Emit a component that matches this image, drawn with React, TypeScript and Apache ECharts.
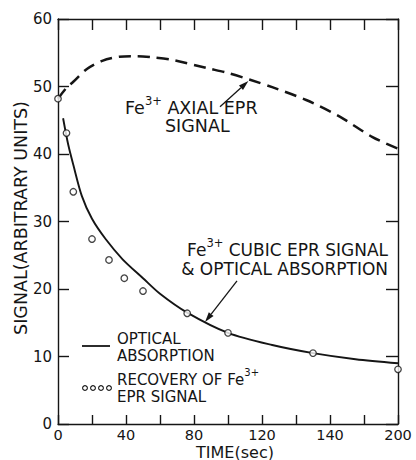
import React, { useEffect, useRef } from "react";
import * as echarts from "echarts";

const FONT = '"DejaVu Sans", sans-serif';
const INK = "#151515";

// Fe3+ axial EPR signal (dashed curve)
const axialTime = [0, 5, 9, 17, 26, 36, 46, 56, 68, 88, 100, 113, 126, 146, 166, 185, 200];
const axialSignal = [48.2, 49.8, 50.7, 52.6, 53.8, 54.4, 54.5, 54.3, 53.9, 52.7, 52.0, 51.0, 49.9, 48.0, 45.5, 42.5, 40.8];

// optical absorption (solid curve)
const opticalTime = [3, 6, 9, 14, 20, 28, 38, 50, 60, 76, 100, 126, 150, 175, 200];
const opticalSignal = [45.3, 41.4, 38.4, 33.8, 30.4, 27.4, 24.4, 21.6, 19.3, 16.5, 13.5, 11.7, 10.5, 9.6, 9.0];

// recovery of the Fe3+ EPR signal (open circles)
const recoveryTime = [0, 5, 9, 20, 30, 39, 50, 76, 100, 150, 200];
const recoverySignal = [48.2, 43.1, 34.4, 27.4, 24.3, 21.6, 19.7, 16.4, 13.5, 10.5, 8.1];

// labelled ticks on the time axis (the axis prints "140" at the 160 s tick)
const xLabelValues = [0, 40, 80, 120, 160, 200];
const xTickLabels = ["0", "40", "80", "120", "140", "200"];

// annotation arrows: [tail, head] in (time, signal)
const axialArrow = [[95.3, 47.0], [112, 50.8]];
const cubicArrow = [[105.3, 21.2], [86.5, 15.1]];

const pairs = (xs: number[], ys: number[]) => xs.map((x, i) => [x, ys[i]]);

const axialRich = {
  m: { fontSize: 17.5, lineHeight: 22, verticalAlign: "bottom", fontFamily: FONT, fill: INK },
  s: { fontSize: 11.5, lineHeight: 12, verticalAlign: "top", fontFamily: FONT, fill: INK },
};
const cubicRich = {
  m: { fontSize: 17, lineHeight: 22, verticalAlign: "bottom", fontFamily: FONT, fill: INK },
  s: { fontSize: 11.5, lineHeight: 12, verticalAlign: "top", fontFamily: FONT, fill: INK },
  n: { fontSize: 17, lineHeight: 21, fontFamily: FONT, fill: INK },
};
const legRich = {
  m: { fontSize: 15, lineHeight: 20, verticalAlign: "bottom", fontFamily: FONT, fill: INK },
  s: { fontSize: 10, lineHeight: 10, verticalAlign: "top", fontFamily: FONT, fill: INK },
  n: { fontSize: 15, lineHeight: 18, fontFamily: FONT, fill: INK },
};

function plainText(text: string, x: number, y: number, size: number, lineHeight?: number) {
  return {
    type: "text",
    x,
    y,
    style: {
      text,
      fill: INK,
      font: `${size}px ${FONT}`,
      lineHeight: lineHeight ?? size,
      align: "left",
      verticalAlign: "middle",
    },
  };
}

function richText(text: string, x: number, y: number, rich: any, align = "left") {
  return {
    type: "text",
    x,
    y,
    style: { text, rich, fill: INK, align, verticalAlign: "top" },
  };
}

// line with a filled head, both ends given in pixels
function arrow(tail: number[], head: number[]) {
  const dx = head[0] - tail[0];
  const dy = head[1] - tail[1];
  const len = Math.hypot(dx, dy) || 1;
  const ux = dx / len;
  const uy = dy / len;
  const headLen = 10;
  const halfW = 3;
  const bx = head[0] - ux * headLen;
  const by = head[1] - uy * headLen;
  return [
    {
      type: "line",
      shape: { x1: tail[0], y1: tail[1], x2: bx, y2: by },
      style: { stroke: INK, lineWidth: 1.3 },
    },
    {
      type: "polygon",
      shape: {
        points: [
          [head[0], head[1]],
          [bx - uy * halfW, by + ux * halfW],
          [bx + uy * halfW, by - ux * halfW],
        ],
      },
      style: { fill: INK },
    },
  ];
}

export default function App() {
  const ref = useRef<HTMLDivElement>(null);

  useEffect(() => {
    if (!ref.current) return;
    const chart = echarts.init(ref.current, undefined, { renderer: "svg" });

    const axisCommon = {
      type: "value",
      axisLine: { show: true, onZero: false, lineStyle: { color: INK, width: 1.4 } },
      splitLine: { show: false },
    };

    chart.setOption({
      animation: false,
      backgroundColor: "#ffffff",
      grid: { left: 58, right: 18, top: 19, bottom: 36 },
      xAxis: [
        {
          ...axisCommon,
          min: 0,
          max: 200,
          interval: 20,
          position: "bottom",
          axisTick: { show: true, inside: true, length: 9, lineStyle: { color: INK, width: 1.4 } },
          axisLabel: {
            margin: 4,
            fontSize: 14.5,
            lineHeight: 14,
            fontFamily: FONT,
            color: INK,
            showMinLabel: true,
            showMaxLabel: true,
            formatter: (v: number) => {
              const i = xLabelValues.indexOf(v);
              return i >= 0 ? xTickLabels[i] : "";
            },
          },
        },
        {
          ...axisCommon,
          min: 0,
          max: 200,
          interval: 20,
          position: "top",
          axisTick: { show: true, inside: true, length: 11, lineStyle: { color: INK, width: 1.4 } },
          axisLabel: { show: false },
        },
      ],
      yAxis: [
        {
          ...axisCommon,
          min: 0,
          max: 60,
          interval: 10,
          position: "left",
          axisTick: { show: true, inside: true, length: 11, lineStyle: { color: INK, width: 1.4 } },
          axisLabel: { margin: 6, fontSize: 15, fontFamily: FONT, color: INK },
        },
        {
          ...axisCommon,
          min: 0,
          max: 60,
          interval: 10,
          position: "right",
          axisTick: { show: true, inside: true, length: 12, lineStyle: { color: INK, width: 1.4 } },
          axisLabel: { show: false },
        },
      ],
      series: [
        {
          name: "axial",
          type: "line",
          data: pairs(axialTime, axialSignal),
          showSymbol: false,
          smooth: 0.3,
          clip: false,
          lineStyle: { color: INK, width: 2.5, type: [12, 7] },
          silent: true,
        },
        {
          name: "optical",
          type: "line",
          data: pairs(opticalTime, opticalSignal),
          showSymbol: false,
          smooth: 0.3,
          clip: false,
          lineStyle: { color: INK, width: 1.9 },
          silent: true,
        },
        {
          name: "recovery",
          type: "scatter",
          data: pairs(recoveryTime, recoverySignal),
          symbol: "circle",
          symbolSize: 6.5,
          clip: false,
          z: 5,
          itemStyle: { color: "#ffffff", borderColor: INK, borderWidth: 1.3 },
          silent: true,
        },
      ],
    });

    const px = (p: number[]) => chart.convertToPixel({ gridIndex: 0 }, p) as number[];

    chart.setOption({
      graphic: [
        // axis titles
        {
          type: "text",
          x: 21,
          y: 218,
          rotation: Math.PI / 2,
          style: {
            text: "SIGNAL(ARBITRARY UNITS)",
            fill: INK,
            font: `17.5px ${FONT}`,
            align: "center",
            verticalAlign: "middle",
          },
        },
        {
          type: "text",
          x: 235,
          y: 452,
          style: {
            text: "TIME(sec)",
            fill: INK,
            font: `16px ${FONT}`,
            lineHeight: 16,
            align: "center",
            verticalAlign: "middle",
          },
        },
        // curve annotations
        richText("{m|Fe}{s|3+}{m| AXIAL EPR}", 125, 94.5, axialRich),
        plainText("SIGNAL", 165, 126, 17.5),
        richText("{m|Fe}{s|3+}{m| CUBIC EPR SIGNAL}\n{n|& OPTICAL ABSORPTION}", 388, 236.5, cubicRich, "right"),
        ...arrow(px(axialArrow[0]), px(axialArrow[1])),
        ...arrow(px(cubicArrow[0]), px(cubicArrow[1])),
        // key
        {
          type: "line",
          shape: { x1: 82, y1: 346, x2: 110, y2: 346 },
          style: { stroke: INK, lineWidth: 1.8 },
        },
        plainText("OPTICAL\nABSORPTION", 117, 347.5, 15, 16.5),
        ...[85, 93, 101, 109].map((cx) => ({
          type: "circle",
          shape: { cx, cy: 388, r: 2.4 },
          style: { fill: "#ffffff", stroke: INK, lineWidth: 1.1 },
        })),
        richText("{m|RECOVERY OF Fe}{s|3+}\n{n|EPR SIGNAL}", 117, 367.5, legRich),
      ],
    });

    return () => chart.dispose();
  }, []);

  return (
    <div
      ref={ref}
      style={{ position: "absolute", left: 0, top: 0, width: 416, height: 460, background: "#fff" }}
    />
  );
}
